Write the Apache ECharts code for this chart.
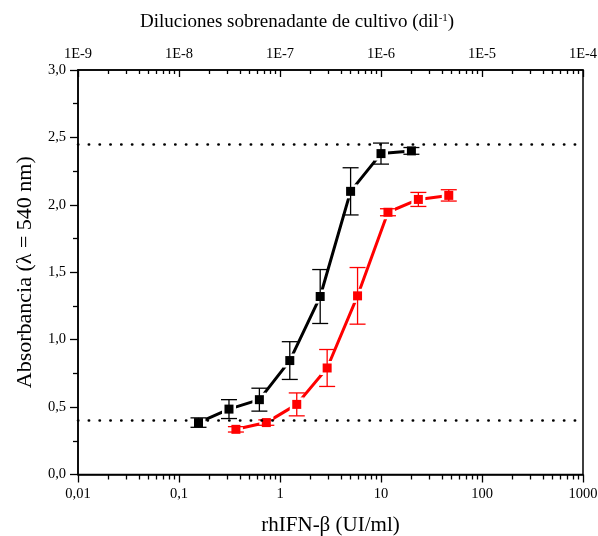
<!DOCTYPE html>
<html><head><meta charset="utf-8">
<script src="https://cdn.jsdelivr.net/npm/echarts@6/dist/echarts.min.js"></script>
<style>html,body{margin:0;padding:0;background:#fff}#c{width:598px;height:536px}</style>
</head><body><div id="c"></div>
<script>
// ---- data ----
const blackX = [0.156, 0.3125, 0.625, 1.25, 2.5, 5, 10, 20];
const blackY = [0.385, 0.485, 0.555, 0.845, 1.32, 2.10, 2.38, 2.40];
const blackErr = [0.035, 0.07, 0.085, 0.14, 0.20, 0.175, 0.078, 0.025];
const redX = [0.366, 0.732, 1.465, 2.93, 5.86, 11.72, 23.44, 46.88];
const redY = [0.335, 0.385, 0.52, 0.79, 1.325, 1.945, 2.04, 2.07];
const redErr = [0.02, 0.02, 0.085, 0.137, 0.21, 0.026, 0.052, 0.042];
const refLines = [2.45, 0.40];

const bottomTickValues = [0.01, 0.1, 1, 10, 100, 1000];
const bottomTickLabels = ['0,01', '0,1', '1', '10', '100', '1000'];
const topTickValues = [1e-9, 1e-8, 1e-7, 1e-6, 1e-5, 1e-4];
const topTickLabels = ['1E-9', '1E-8', '1E-7', '1E-6', '1E-5', '1E-4'];
const minorMultipliers = [2, 3, 4, 5, 6, 7, 8, 9];

const FONT = 'Liberation Serif';

function minorsOf(decades) {
  const out = [];
  decades.slice(0, -1).forEach(d => minorMultipliers.forEach(k => out.push(+(d * k).toPrecision(6))));
  return out;
}
function labelFor(values, labels) {
  return function (v) {
    for (let i = 0; i < values.length; i++) {
      if (Math.abs(Math.log10(v) - Math.log10(values[i])) < 1e-6) return labels[i];
    }
    return '';
  };
}
function errData(xs, ys, es) { return xs.map((x, i) => [x, ys[i] - es[i], ys[i] + es[i]]); }
function pts(xs, ys) { return xs.map((x, i) => [x, ys[i]]); }

function errRender(color) {
  return function (params, api) {
    const lo = api.coord([api.value(0), api.value(1)]);
    const hi = api.coord([api.value(0), api.value(2)]);
    const w = 8;
    const style = { stroke: color, lineWidth: 1.3 };
    return {
      type: 'group',
      children: [
        { type: 'line', shape: { x1: lo[0], y1: lo[1], x2: hi[0], y2: hi[1] }, style },
        { type: 'line', shape: { x1: lo[0] - w, y1: lo[1], x2: lo[0] + w, y2: lo[1] }, style },
        { type: 'line', shape: { x1: hi[0] - w, y1: hi[1], x2: hi[0] + w, y2: hi[1] }, style }
      ]
    };
  };
}

const axisLineStyle = { color: '#000', width: 1.5 };
const tickStyle = { color: '#000', width: 1.3 };
const labelStyle = { fontFamily: FONT, fontSize: 14.5, color: '#000' };

const chart = echarts.init(document.getElementById('c'), null, { renderer: 'canvas' });
chart.setOption({
  animation: false,
  backgroundColor: '#fff',
  title: {
    text: 'Diluciones sobrenadante de cultivo (dil{sup|-1})',
    left: 135, top: 8,
    textStyle: {
      fontFamily: FONT, fontSize: 19, fontWeight: 'normal', color: '#000',
      rich: { sup: { fontFamily: FONT, fontSize: 11, color: '#000', verticalAlign: 'top' } }
    }
  },
  grid: { left: 78, right: 15, top: 70, bottom: 61.5, show: true, borderColor: '#000', borderWidth: 1.5,
          containLabel: false, outerBoundsMode: 'none' },
  xAxis: [
    {
      type: 'log', logBase: 10, min: 0.01, max: 1000, position: 'bottom',
      axisLine: { onZero: false, lineStyle: axisLineStyle },
      axisTick: { show: true, length: 8, lineStyle: tickStyle },
      axisLabel: Object.assign({ margin: 12, formatter: labelFor(bottomTickValues, bottomTickLabels) }, labelStyle),
      splitLine: { show: false }, minorTick: { show: false },
      name: 'rhIFN-β (UI/ml)', nameLocation: 'middle', nameGap: 40,
      nameTextStyle: { fontFamily: FONT, fontSize: 21, color: '#000' }
    },
    {
      type: 'log', logBase: 10, min: 0.01, max: 1000, position: 'bottom',
      axisLine: { show: false, onZero: false },
      axisTick: { show: true, length: 5, lineStyle: tickStyle, customValues: minorsOf(bottomTickValues) },
      axisLabel: { show: false }, splitLine: { show: false }
    },
    {
      type: 'log', logBase: 10, min: 1e-9, max: 1e-4, position: 'top',
      axisLine: { onZero: false, lineStyle: axisLineStyle },
      axisTick: { show: true, inside: true, length: 7, lineStyle: tickStyle },
      axisLabel: Object.assign({ margin: 8, formatter: labelFor(topTickValues, topTickLabels) }, labelStyle),
      splitLine: { show: false }
    },
    {
      type: 'log', logBase: 10, min: 1e-9, max: 1e-4, position: 'top',
      axisLine: { show: false, onZero: false },
      axisTick: { show: true, inside: true, length: 4, lineStyle: tickStyle, customValues: minorsOf(topTickValues) },
      axisLabel: { show: false }, splitLine: { show: false }
    }
  ],
  yAxis: [{
    type: 'value', min: 0, max: 3, interval: 0.5, position: 'left',
    axisLine: { show: true, onZero: false, lineStyle: axisLineStyle },
    axisTick: { show: true, length: 8, lineStyle: tickStyle },
    minorTick: { show: true, splitNumber: 2, length: 5, lineStyle: tickStyle },
    axisLabel: Object.assign({ margin: 12, formatter: v => v.toFixed(1).replace('.', ',') }, labelStyle),
    splitLine: { show: false },
    name: 'Absorbancia (λ = 540 nm)', nameLocation: 'middle', nameGap: 42, nameRotate: 90,
    nameTextStyle: { fontFamily: FONT, fontSize: 22, color: '#000' }
  }],
  series: [
    {
      type: 'line', name: 'black', data: pts(blackX, blackY), showSymbol: false, z: 1,
      lineStyle: { color: '#000', width: 3 }, itemStyle: { color: '#000' },
      markLine: {
        silent: true, symbol: ['none', 'none'], label: { show: false },
        lineStyle: { color: '#000', width: 2.6, type: [0.3, 10.5], cap: 'round' },
        data: refLines.map(v => ({ yAxis: v }))
      }
    },
    { type: 'line', name: 'red', data: pts(redX, redY), showSymbol: false, z: 1,
      lineStyle: { color: '#ff0000', width: 3 }, itemStyle: { color: '#ff0000' } },
    { type: 'scatter', data: pts(blackX, blackY), symbol: 'rect', symbolSize: 14, z: 2, itemStyle: { color: '#fff', opacity: 1 } },
    { type: 'scatter', data: pts(redX, redY), symbol: 'rect', symbolSize: 14, z: 2, itemStyle: { color: '#fff', opacity: 1 } },
    { type: 'custom', data: errData(blackX, blackY, blackErr), renderItem: errRender('#000'), encode: { x: 0, y: [1, 2] }, z: 3 },
    { type: 'custom', data: errData(redX, redY, redErr), renderItem: errRender('#ff0000'), encode: { x: 0, y: [1, 2] }, z: 3 },
    { type: 'scatter', data: pts(blackX, blackY), symbol: 'rect', symbolSize: 9, z: 4, itemStyle: { color: '#000', opacity: 1 } },
    { type: 'scatter', data: pts(redX, redY), symbol: 'rect', symbolSize: 9, z: 4, itemStyle: { color: '#ff0000', opacity: 1 } }
  ]
});
</script>
</body></html>
